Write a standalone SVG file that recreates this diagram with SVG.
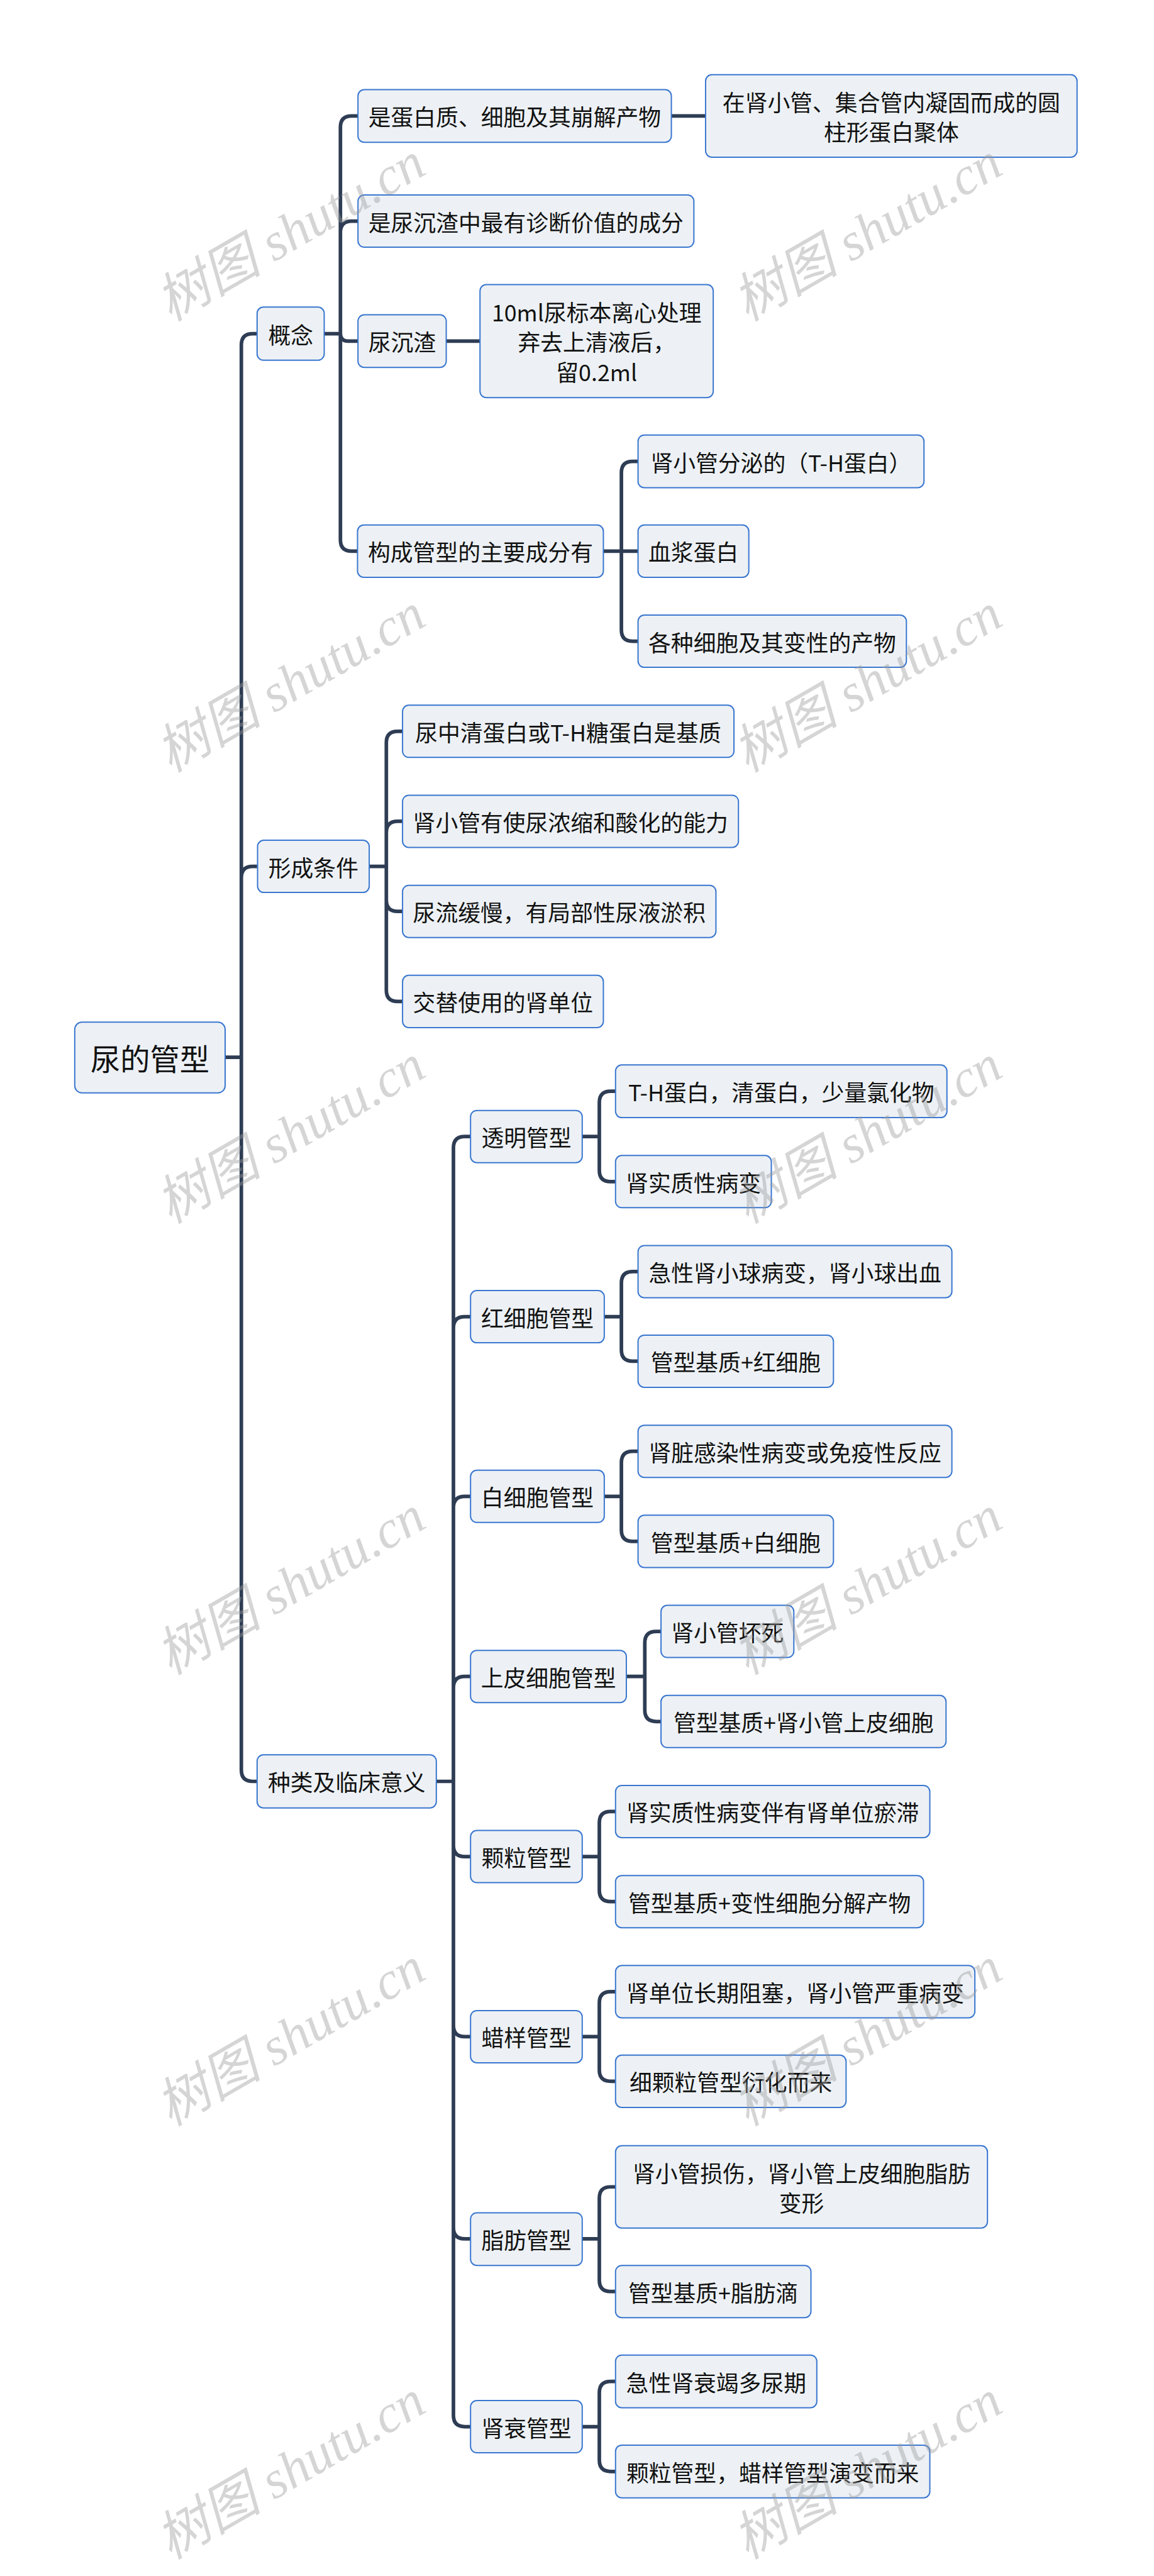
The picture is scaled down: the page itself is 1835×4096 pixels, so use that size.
<svg xmlns="http://www.w3.org/2000/svg" width="1835" height="4096" viewBox="0 0 1835 4096">
<style>
.box{fill:#edf1f5;stroke:#3a77d0;stroke-width:2.8}
.t{font-family:"Noto Sans CJK SC","Noto Sans",sans-serif;font-size:50px;fill:#111;text-anchor:middle;dominant-baseline:central}
.rt{font-size:66px}
.conn{fill:none;stroke:#2e3d54;stroke-width:8;stroke-linejoin:round}
.wm{font-family:"Liberation Serif","Noto Sans CJK SC",serif;font-style:italic;font-size:118px;fill:#9a9a9a;fill-opacity:0.42;text-anchor:middle;dominant-baseline:central}
</style>
<rect width="1835" height="4096" fill="#ffffff"/>
<g transform="scale(0.716)">
<g id="connectors" class="conn">
<path d="M500 2348 H536 M536 2348 V766 Q536 741 561 741 H571 M536 2348 V1949 Q536 1924 561 1924 H571 M536 2348 V3931 Q536 3956 561 3956 H571"/>
<path d="M720 741 H756 M756 741 V282.5 Q756 257.5 781 257.5 H795 M756 741 V516 Q756 491 781 491 H795 M756 741 Q756 757.5 772.5 757.5 H795 M756 741 V1199 Q756 1224 781 1224 H795"/>
<path d="M1491 257.5 H1567 M991 757.5 H1066"/>
<path d="M1340 1224 H1380 M1380 1224 V1049.5 Q1380 1024.5 1405 1024.5 H1417 M1380 1224 H1417 M1380 1224 V1399 Q1380 1424 1405 1424 H1417"/>
<path d="M820 1924 H858 M858 1924 V1649 Q858 1624 883 1624 H894 M858 1924 V1849 Q858 1824 883 1824 H894 M858 1924 V1999 Q858 2024 883 2024 H894 M858 1924 V2199 Q858 2224 883 2224 H894"/>
<path d="M969 3956 H1007 M1007 3956 V2549 Q1007 2524 1032 2524 H1045 M1007 3956 V2949 Q1007 2924 1032 2924 H1045 M1007 3956 V3348 Q1007 3323 1032 3323 H1045 M1007 3956 V3748 Q1007 3723 1032 3723 H1045 M1007 3956 V4098 Q1007 4123 1032 4123 H1045 M1007 3956 V4498 Q1007 4523 1032 4523 H1045 M1007 3956 V4947 Q1007 4972 1032 4972 H1045 M1007 3956 V5364 Q1007 5389 1032 5389 H1045"/>
<path d="M1293 2524 H1331 M1331 2524 V2448.5 Q1331 2423.5 1356 2423.5 H1367 M1331 2524 V2599 Q1331 2624 1356 2624 H1367"/>
<path d="M1342 2924 H1380 M1380 2924 V2849 Q1380 2824 1405 2824 H1417 M1380 2924 V2998 Q1380 3023 1405 3023 H1417"/>
<path d="M1342 3323 H1380 M1380 3323 V3248 Q1380 3223 1405 3223 H1417 M1380 3323 V3398 Q1380 3423 1405 3423 H1417"/>
<path d="M1391 3723 H1432 M1432 3723 V3648 Q1432 3623 1457 3623 H1468 M1432 3723 V3798 Q1432 3823 1457 3823 H1468"/>
<path d="M1293 4123 H1331 M1331 4123 V4048 Q1331 4023 1356 4023 H1367 M1331 4123 V4198 Q1331 4223 1356 4223 H1367"/>
<path d="M1293 4523 H1331 M1331 4523 V4448 Q1331 4423 1356 4423 H1367 M1331 4523 V4597 Q1331 4622 1356 4622 H1367"/>
<path d="M1293 4972 H1331 M1331 4972 V4881.5 Q1331 4856.5 1356 4856.5 H1367 M1331 4972 V5064 Q1331 5089 1356 5089 H1367"/>
<path d="M1293 5389 H1331 M1331 5389 V5313.5 Q1331 5288.5 1356 5288.5 H1367 M1331 5389 V5463.5 Q1331 5488.5 1356 5488.5 H1367"/>
</g>
<g id="root"><rect class="box" x="166" y="2270" width="334" height="157" rx="16"/><text class="t rt" x="333" y="2348.5">尿的管型</text></g>
<g id="n-gainian"><rect class="box" x="571" y="682" width="149" height="118" rx="14"/><text class="t" x="645.5" y="741">概念</text></g>
<g id="n-xingcheng"><rect class="box" x="572" y="1866" width="248" height="116" rx="14"/><text class="t" x="696" y="1924">形成条件</text></g>
<g id="n-zhonglei"><rect class="box" x="571" y="3897" width="398" height="118" rx="14"/><text class="t" x="770" y="3956">种类及临床意义</text></g>
<g id="n-a1"><rect class="box" x="795" y="199" width="696" height="117" rx="14"/><text class="t" x="1143" y="257.5">是蛋白质、细胞及其崩解产物</text></g>
<g id="n-a1c"><rect class="box" x="1567" y="166" width="825" height="183" rx="14"/><text class="t" x="1979.5" y="225">在肾小管、集合管内凝固而成的圆</text><text class="t" x="1979.5" y="290">柱形蛋白聚体</text></g>
<g id="n-a2"><rect class="box" x="795" y="433" width="746" height="116" rx="14"/><text class="t" x="1168" y="491">是尿沉渣中最有诊断价值的成分</text></g>
<g id="n-a3"><rect class="box" x="795" y="699" width="196" height="117" rx="14"/><text class="t" x="893" y="757.5">尿沉渣</text></g>
<g id="n-a3c"><rect class="box" x="1066" y="632" width="518" height="251" rx="14"/><text class="t" x="1325" y="691">10ml尿标本离心处理</text><text class="t" x="1325" y="757.5">弃去上清液后，</text><text class="t" x="1325" y="824">留0.2ml</text></g>
<g id="n-a4"><rect class="box" x="794" y="1166" width="546" height="116" rx="14"/><text class="t" x="1067" y="1224">构成管型的主要成分有</text></g>
<g id="n-a4a"><rect class="box" x="1417" y="966" width="635" height="117" rx="14"/><text class="t" x="1734.5" y="1024.5">肾小管分泌的（T-H蛋白）</text></g>
<g id="n-a4b"><rect class="box" x="1417" y="1166" width="246" height="116" rx="14"/><text class="t" x="1540" y="1224">血浆蛋白</text></g>
<g id="n-a4c"><rect class="box" x="1417" y="1366" width="596" height="116" rx="14"/><text class="t" x="1715" y="1424">各种细胞及其变性的产物</text></g>
<g id="n-b1"><rect class="box" x="894" y="1566" width="736" height="116" rx="14"/><text class="t" x="1262" y="1624">尿中清蛋白或T-H糖蛋白是基质</text></g>
<g id="n-b2"><rect class="box" x="894" y="1766" width="746" height="116" rx="14"/><text class="t" x="1267" y="1824">肾小管有使尿浓缩和酸化的能力</text></g>
<g id="n-b3"><rect class="box" x="894" y="1966" width="696" height="116" rx="14"/><text class="t" x="1242" y="2024">尿流缓慢，有局部性尿液淤积</text></g>
<g id="n-b4"><rect class="box" x="894" y="2166" width="446" height="116" rx="14"/><text class="t" x="1117" y="2224">交替使用的肾单位</text></g>
<g id="n-c1"><rect class="box" x="1045" y="2466" width="248" height="116" rx="14"/><text class="t" x="1169" y="2524">透明管型</text></g>
<g id="n-c1a"><rect class="box" x="1367" y="2365" width="736" height="117" rx="14"/><text class="t" x="1735" y="2423.5">T-H蛋白，清蛋白，少量氯化物</text></g>
<g id="n-c1b"><rect class="box" x="1367" y="2566" width="346" height="116" rx="14"/><text class="t" x="1540" y="2624">肾实质性病变</text></g>
<g id="n-c2"><rect class="box" x="1045" y="2866" width="297" height="116" rx="14"/><text class="t" x="1193.5" y="2924">红细胞管型</text></g>
<g id="n-c2a"><rect class="box" x="1417" y="2766" width="697" height="116" rx="14"/><text class="t" x="1765.5" y="2824">急性肾小球病变，肾小球出血</text></g>
<g id="n-c2b"><rect class="box" x="1417" y="2965" width="434" height="116" rx="14"/><text class="t" x="1634" y="3023">管型基质+红细胞</text></g>
<g id="n-c3"><rect class="box" x="1045" y="3265" width="297" height="116" rx="14"/><text class="t" x="1193.5" y="3323">白细胞管型</text></g>
<g id="n-c3a"><rect class="box" x="1417" y="3165" width="697" height="116" rx="14"/><text class="t" x="1765.5" y="3223">肾脏感染性病变或免疫性反应</text></g>
<g id="n-c3b"><rect class="box" x="1417" y="3365" width="434" height="116" rx="14"/><text class="t" x="1634" y="3423">管型基质+白细胞</text></g>
<g id="n-c4"><rect class="box" x="1045" y="3665" width="346" height="116" rx="14"/><text class="t" x="1218" y="3723">上皮细胞管型</text></g>
<g id="n-c4a"><rect class="box" x="1468" y="3565" width="295" height="116" rx="14"/><text class="t" x="1615.5" y="3623">肾小管坏死</text></g>
<g id="n-c4b"><rect class="box" x="1468" y="3765" width="633" height="116" rx="14"/><text class="t" x="1784.5" y="3823">管型基质+肾小管上皮细胞</text></g>
<g id="n-c5"><rect class="box" x="1045" y="4065" width="248" height="116" rx="14"/><text class="t" x="1169" y="4123">颗粒管型</text></g>
<g id="n-c5a"><rect class="box" x="1367" y="3965" width="698" height="116" rx="14"/><text class="t" x="1716" y="4023">肾实质性病变伴有肾单位瘀滞</text></g>
<g id="n-c5b"><rect class="box" x="1367" y="4165" width="684" height="116" rx="14"/><text class="t" x="1709" y="4223">管型基质+变性细胞分解产物</text></g>
<g id="n-c6"><rect class="box" x="1045" y="4465" width="248" height="116" rx="14"/><text class="t" x="1169" y="4523">蜡样管型</text></g>
<g id="n-c6a"><rect class="box" x="1367" y="4365" width="798" height="116" rx="14"/><text class="t" x="1766" y="4423">肾单位长期阻塞，肾小管严重病变</text></g>
<g id="n-c6b"><rect class="box" x="1367" y="4564" width="512" height="116" rx="14"/><text class="t" x="1623" y="4622">细颗粒管型衍化而来</text></g>
<g id="n-c7"><rect class="box" x="1045" y="4914" width="248" height="117" rx="14"/><text class="t" x="1169" y="4972.5">脂肪管型</text></g>
<g id="n-c7a"><rect class="box" x="1367" y="4765" width="826" height="183" rx="14"/><text class="t" x="1780" y="4824">肾小管损伤，肾小管上皮细胞脂肪</text><text class="t" x="1780" y="4889">变形</text></g>
<g id="n-c7b"><rect class="box" x="1367" y="5031" width="434" height="116" rx="14"/><text class="t" x="1584" y="5089">管型基质+脂肪滴</text></g>
<g id="n-c8"><rect class="box" x="1045" y="5331" width="248" height="116" rx="14"/><text class="t" x="1169" y="5389">肾衰管型</text></g>
<g id="n-c8a"><rect class="box" x="1367" y="5230" width="447" height="117" rx="14"/><text class="t" x="1590.5" y="5288.5">急性肾衰竭多尿期</text></g>
<g id="n-c8b"><rect class="box" x="1367" y="5430" width="698" height="117" rx="14"/><text class="t" x="1716" y="5488.5">颗粒管型，蜡样管型演变而来</text></g>
<g id="watermarks">
<text class="wm" transform="translate(645 515) rotate(-30)">树图 shutu.cn</text>
<text class="wm" transform="translate(1926 515) rotate(-30)">树图 shutu.cn</text>
<text class="wm" transform="translate(645 1517) rotate(-30)">树图 shutu.cn</text>
<text class="wm" transform="translate(1926 1517) rotate(-30)">树图 shutu.cn</text>
<text class="wm" transform="translate(645 2519) rotate(-30)">树图 shutu.cn</text>
<text class="wm" transform="translate(1926 2519) rotate(-30)">树图 shutu.cn</text>
<text class="wm" transform="translate(645 3521) rotate(-30)">树图 shutu.cn</text>
<text class="wm" transform="translate(1926 3521) rotate(-30)">树图 shutu.cn</text>
<text class="wm" transform="translate(645 4523) rotate(-30)">树图 shutu.cn</text>
<text class="wm" transform="translate(1926 4523) rotate(-30)">树图 shutu.cn</text>
<text class="wm" transform="translate(645 5485) rotate(-30)">树图 shutu.cn</text>
<text class="wm" transform="translate(1926 5485) rotate(-30)">树图 shutu.cn</text>
</g>
</g>
</svg>
